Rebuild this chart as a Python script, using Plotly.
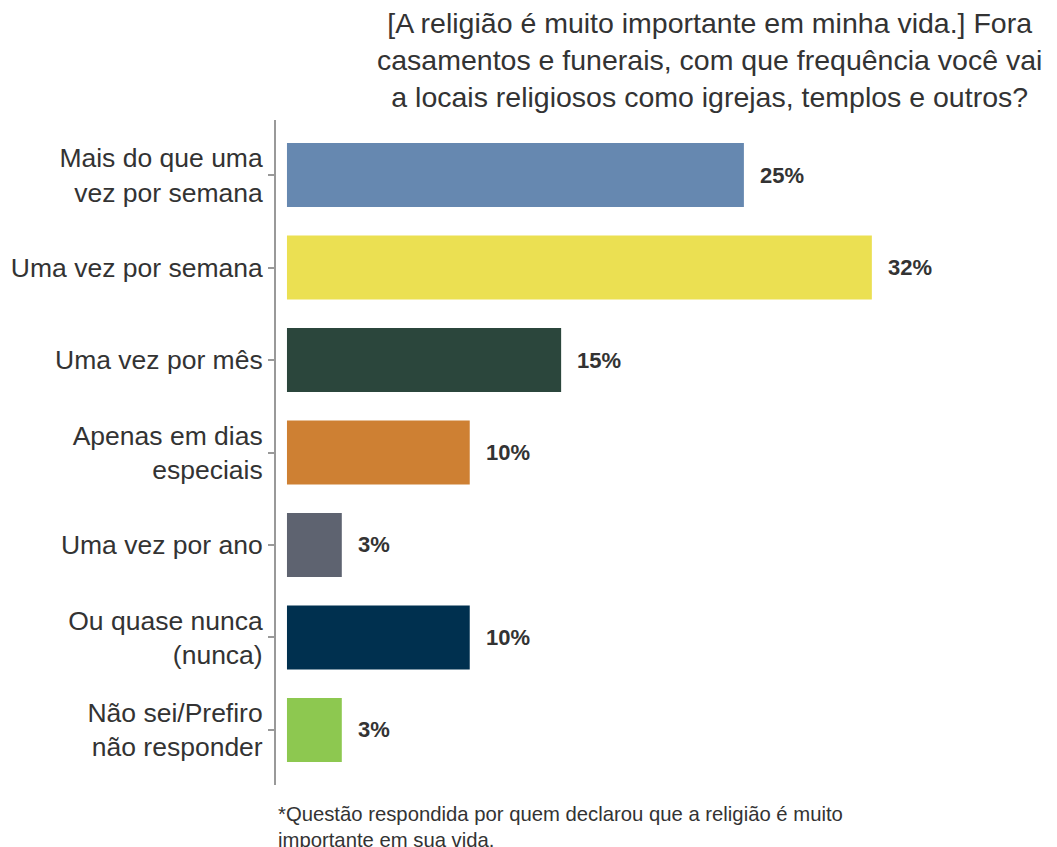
import plotly.graph_objects as go

categories = ["Mais do que uma<br>vez por semana", "Uma vez por semana", "Uma vez por mês",
              "Apenas em dias<br>especiais", "Uma vez por ano", "Ou quase nunca<br>(nunca)",
              "Não sei/Prefiro<br>não responder"]
values = [25, 32, 15, 10, 3, 10, 3]
labels = ["25%", "32%", "15%", "10%", "3%", "10%", "3%"]
colors = ["#6688B0", "#EBE052", "#2B463C", "#CE8033", "#5E6370", "#00304F", "#8DC850"]

title = ("[A religião é muito importante em minha vida.] Fora<br>"
         "casamentos e funerais, com que frequência você vai<br>"
         "a locais religiosos como igrejas, templos e outros?")
note = ("*Questão respondida por quem declarou que a religião é muito<br>"
        "importante em sua vida.")

font = "Liberation Sans, Arial, sans-serif"

fig = go.Figure()
fig.add_trace(go.Bar(
    x=values, y=list(range(len(categories))), orientation="h",
    marker=dict(color=colors, line=dict(width=0)), width=0.69,
    hoverinfo="skip",
))

# value labels to the right of each bar
for i, (v, t) in enumerate(zip(values, labels)):
    fig.add_annotation(x=v, y=i, text="<b>" + t + "</b>", showarrow=False,
                       xanchor="left", xshift=14,
                       font=dict(family=font, size=22, color="#333333"))

fig.add_annotation(x=0.568, y=1, xref="paper", yref="paper", yshift=115,
                   text=title, showarrow=False, xanchor="center", yanchor="top",
                   align="center", font=dict(family=font, size=28.5, color="#333333"))

fig.add_annotation(x=0, y=0, xref="paper", yref="paper", yshift=-16,
                   text=note, showarrow=False, xanchor="left", yanchor="top",
                   align="left", font=dict(family=font, size=20.3, color="#333333"))

fig.update_layout(
    width=1049, height=839,
    margin=dict(l=268, r=17, t=112, b=62),
    paper_bgcolor="white", plot_bgcolor="white",
    showlegend=False,
    font=dict(family=font, color="#333333"),
    xaxis=dict(range=[-0.6, 41.2], visible=False, showgrid=False, zeroline=False),
    yaxis=dict(
        range=[6.595, -0.595], automargin=False,
        tickmode="array", tickvals=list(range(len(categories))), ticktext=categories,
        showline=True, linecolor="#999999", linewidth=2,
        ticks="outside", ticklen=6, tickwidth=2, tickcolor="#999999",
        showgrid=False, zeroline=False,
        tickfont=dict(family=font, size=26.5, color="#333333"),
    ),
)

fig.write_html("out.html")
